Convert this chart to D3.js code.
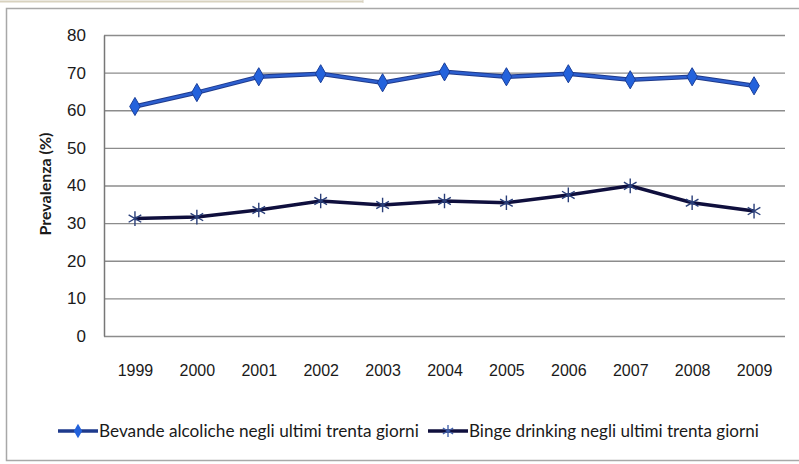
<!DOCTYPE html>
<html lang="it">
<head>
  <meta charset="UTF-8">
  <title>Prevalenza</title>
  <style>
    body { margin: 0; background: #fff; }
    svg { display: block; font-family: Lato, "Open Sans", sans-serif; }
  </style>
</head>
<body>
  <svg id="chart"></svg>

  <script src="https://d3js.org/d3.v7.min.js"></script>
  <script>
    // dati
    var years = ['1999', '2000', '2001', '2002', '2003', '2004', '2005', '2006', '2007', '2008', '2009'];
    var bevande = [61.0, 64.7, 68.9, 69.7, 67.3, 70.2, 68.9, 69.7, 68.1, 68.9, 66.5];
    var binge = [31.2, 31.6, 33.5, 35.9, 34.8, 35.9, 35.4, 37.5, 39.9, 35.4, 33.2];
    var yTicks = [0, 10, 20, 30, 40, 50, 60, 70, 80];
    var seriesNames = ['Bevande alcoliche negli ultimi trenta giorni', 'Binge drinking negli ultimi trenta giorni'];

    var W = 799, H = 464;
    var plot = { left: 104, right: 785, top: 35, bottom: 336 };

    var svg = d3.select('#chart').attr('width', W).attr('height', H);

    // cornice esterna
    svg.append('rect')
      .attr('x', 6.5).attr('y', 8.5)
      .attr('width', W - 4).attr('height', 452)
      .attr('fill', '#fff').attr('stroke', '#a8a8a8').attr('stroke-width', 1.5);
    svg.append('line')
      .attr('x1', 0).attr('x2', 363).attr('y1', 1.5).attr('y2', 1.5)
      .attr('stroke', '#d8d2bf').attr('stroke-width', 2);
    svg.append('line')
      .attr('x1', 363).attr('x2', 363).attr('y1', 0).attr('y2', 3)
      .attr('stroke', '#d8d2bf').attr('stroke-width', 1);

    var x = d3.scalePoint()
      .domain(years)
      .range([plot.left, plot.right])
      .padding(0.5);

    var y = d3.scaleLinear()
      .domain([0, 80])
      .range([plot.bottom, plot.top]);

    // griglia
    svg.append('g')
      .selectAll('line')
      .data(yTicks)
      .enter()
      .append('line')
      .attr('x1', plot.left).attr('x2', plot.right)
      .attr('y1', function (d) { return y(d) + 0.5; })
      .attr('y2', function (d) { return y(d) + 0.5; })
      .attr('stroke', '#8c8c8c')
      .attr('stroke-width', 1.3);

    // asse y
    var axisY = d3.axisLeft(y).tickValues(yTicks).tickSize(0).tickPadding(18);
    var gy = svg.append('g')
      .attr('transform', 'translate(' + plot.left + ',0)')
      .call(axisY);
    gy.select('.domain').attr('stroke', '#777').attr('stroke-width', 1.5);
    gy.selectAll('text').attr('font-size', 17).attr('fill', '#1a1a1a').attr('font-family', 'inherit');

    // asse x (solo etichette)
    var axisX = d3.axisBottom(x).tickSize(0).tickPadding(29);
    var gx = svg.append('g')
      .attr('transform', 'translate(0,' + plot.bottom + ')')
      .call(axisX);
    gx.select('.domain').remove();
    gx.selectAll('text').attr('font-size', 16).attr('fill', '#1a1a1a').attr('font-family', 'inherit');

    // titolo asse y
    svg.append('text')
      .attr('transform', 'translate(51,' + 184 + ') rotate(-90)')
      .attr('text-anchor', 'middle')
      .attr('font-size', 16)
      .attr('font-weight', 'bold')
      .attr('fill', '#1a1a1a')
      .text('Prevalenza (%)');

    var line = d3.line()
      .x(function (d, i) { return x(years[i]); })
      .y(function (d) { return y(d); });

    var blue = '#2d5fcf', navy = '#0f0f3d';

    // serie 1: linea blu con rombi
    svg.append('path')
      .datum(bevande)
      .attr('d', line)
      .attr('fill', 'none')
      .attr('stroke', '#1e3a8c')
      .attr('stroke-width', 4.5);
    svg.append('path')
      .datum(bevande)
      .attr('d', line)
      .attr('fill', 'none')
      .attr('stroke', blue)
      .attr('stroke-width', 2.5);

    var diamond = d3.symbol().type(d3.symbolDiamond).size(95);
    svg.append('g')
      .selectAll('path')
      .data(bevande)
      .enter()
      .append('path')
      .attr('d', diamond)
      .attr('transform', function (d, i) { return 'translate(' + x(years[i]) + ',' + y(d) + ')'; })
      .attr('fill', '#2362dc')
      .attr('stroke', '#1a3f9a')
      .attr('stroke-width', 1);

    // serie 2: linea scura con asterischi
    svg.append('path')
      .datum(binge)
      .attr('d', line)
      .attr('fill', 'none')
      .attr('stroke', navy)
      .attr('stroke-width', 3.5);

    var star = d3.symbol().type(d3.symbolAsterisk).size(150);
    svg.append('g')
      .selectAll('path')
      .data(binge)
      .enter()
      .append('path')
      .attr('d', star)
      .attr('transform', function (d, i) { return 'translate(' + x(years[i]) + ',' + y(d) + ')'; })
      .attr('fill', 'none')
      .attr('stroke', '#2a3f7a')
      .attr('stroke-width', 1.4);

    // legenda
    var legY = 431;
    var leg = [
      { x0: 58, w: 320, name: seriesNames[0] },
      { x0: 428, w: 290, name: seriesNames[1] }
    ];
    leg.forEach(function (l, i) {
      var g = svg.append('g');
      g.append('line')
        .attr('x1', l.x0).attr('x2', l.x0 + 40)
        .attr('y1', legY).attr('y2', legY)
        .attr('stroke', i === 0 ? '#1e3a8c' : navy)
        .attr('stroke-width', 3.5);
      if (i === 0) {
        g.append('path')
          .attr('d', d3.symbol().type(d3.symbolDiamond).size(60))
          .attr('transform', 'translate(' + (l.x0 + 20) + ',' + legY + ')')
          .attr('fill', '#2362dc');
      } else {
        g.append('path')
          .attr('d', d3.symbol().type(d3.symbolAsterisk).size(100))
          .attr('transform', 'translate(' + (l.x0 + 20) + ',' + legY + ')')
          .attr('fill', 'none')
          .attr('stroke', '#3a5aa8')
          .attr('stroke-width', 1.3);
      }
      var t = g.append('text')
        .attr('x', l.x0 + 41)
        .attr('y', legY + 6)
        .attr('font-size', 17)
        .attr('fill', '#1a1a1a')
        .text(l.name);
      // adatta la larghezza a quella del riferimento
      var len = t.node().getComputedTextLength();
      if (len > 0) t.attr('font-size', 17 * l.w / len);
    });
  </script>
</body>
</html>
